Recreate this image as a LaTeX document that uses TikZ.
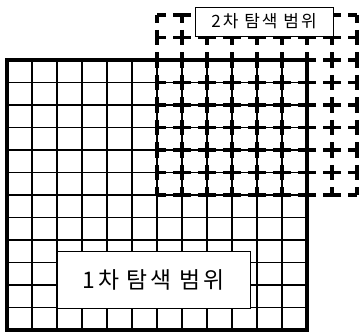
\documentclass[tikz,border=0pt]{standalone}
\usepackage{fontspec}
\newfontfamily\krfont[LetterSpace=12]{Noto Sans CJK KR}
\usetikzlibrary{positioning}
\tikzset{
  gSolid/.style={line width=1.3pt, black},
  gBorder/.style={line width=2.8pt, black, line cap=rect},
  gDashH/.style={line width=3pt, black, dash pattern=on 15pt off 6.34pt, dash phase=7.5pt},
  gDashV/.style={line width=3pt, black, dash pattern=on 13pt off 6.2pt, dash phase=6.5pt},
  lbl/.style={draw, fill=white, line width=0.8pt, inner sep=0pt, font=\krfont},
}

\begin{document}
\begin{tikzpicture}[x=0.03cm, y=-0.03cm]
\useasboundingbox (0,0) rectangle (359,336);

%% ============================================================
%% 1st SEARCH AREA  -- solid 12 x 12 grid
%% ============================================================
\foreach \i in {1,...,11} {
  \draw[gSolid] ({7+25*\i},60) -- ({7+25*\i},330);
  \draw[gSolid] (7,{60+22.5*\i}) -- (307,{60+22.5*\i});
}
\draw[gBorder] (7,60) rectangle (307,330);

%% ============================================================
%% 2nd SEARCH AREA  -- dashed 8 x 8 grid (top-right)
%% ============================================================
\foreach \i in {0,...,8} {
  \draw[gDashV] ({157+25*\i},15) -- ({157+25*\i},195);
  \draw[gDashH] (157,{15+22.5*\i}) -- (357,{15+22.5*\i});
}

%% ============================================================
%% LABELS
%% ============================================================
\node[lbl, minimum width=138*0.03cm, minimum height=29*0.03cm,
      font=\krfont\fontsize{14.5pt}{16pt}\selectfont]
  (second) at (264,21.5) {2차 탐색 범위};

\node[lbl, minimum width=193*0.03cm, minimum height=57*0.03cm,
      font=\krfont\fontsize{19.5pt}{22pt}\selectfont]
  (first) at (153.5,279.5) {1차 탐색 범위};

\end{tikzpicture}
\end{document}
